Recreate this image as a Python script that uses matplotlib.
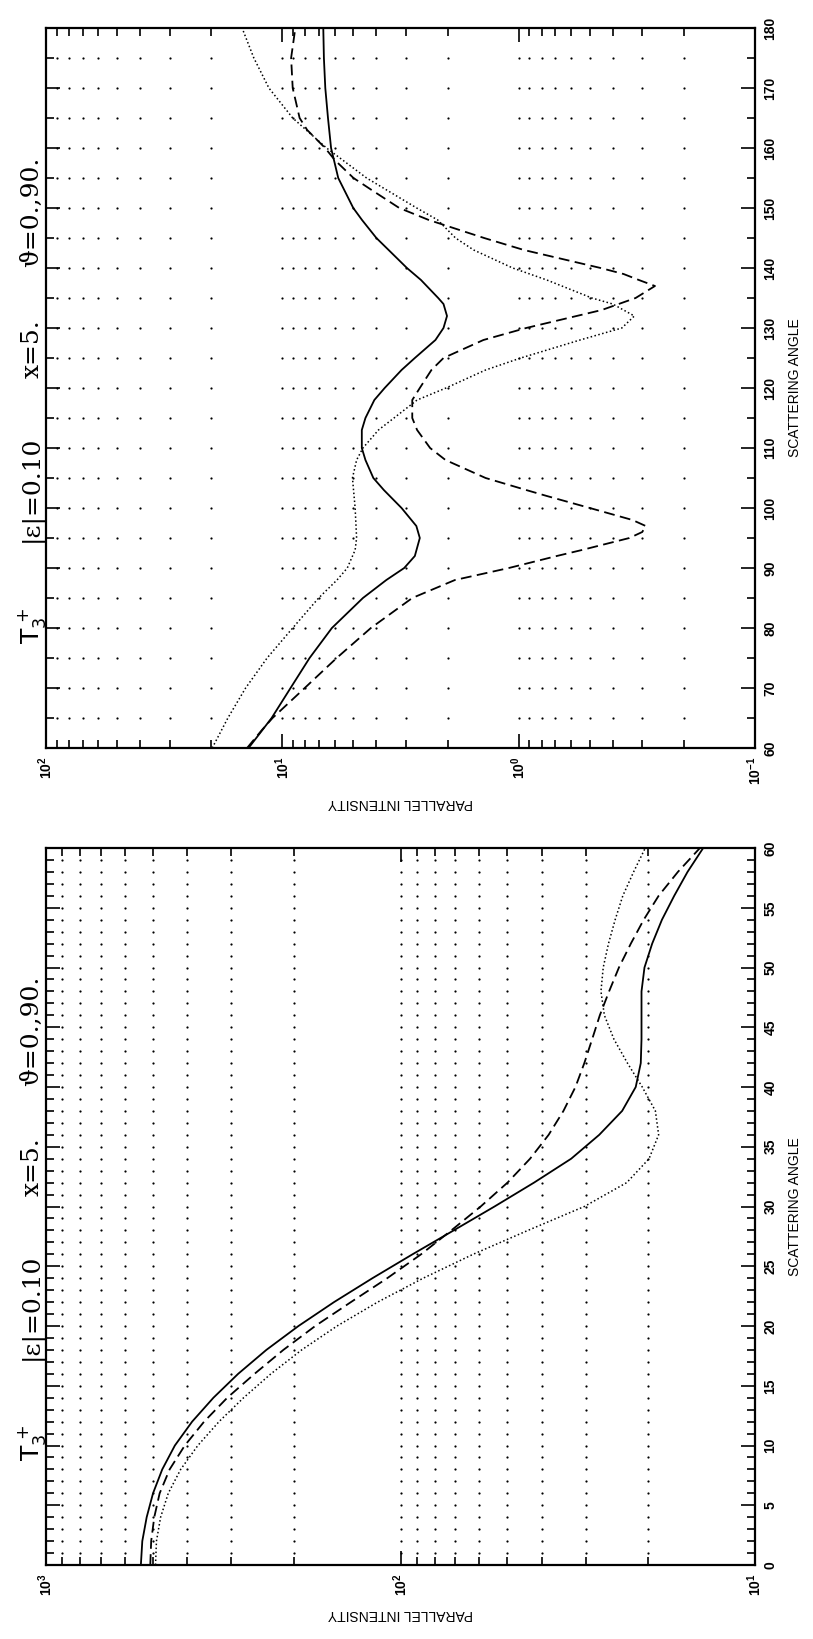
import numpy as np
import matplotlib.pyplot as plt
from matplotlib.ticker import LogLocator, NullFormatter, MultipleLocator

plt.rcParams['font.family'] = ['Liberation Sans', 'DejaVu Sans']

# ---- bottom panel, 0-60 deg (intensity) ----
ang_b = [0, 2, 4, 6, 8, 10, 12, 14, 16, 18, 20, 22, 24, 26, 28, 30,
         32, 34, 36, 38, 40, 42, 44, 46, 48, 50, 52, 54, 56, 58, 60]
solid_b = [540, 535, 520, 499, 470, 433, 387, 337, 287, 239, 194, 154, 120, 92.5, 70.8, 54.3,
           42.0, 33.0, 27.5, 23.7, 21.7, 21.0, 20.9, 20.9, 20.9, 20.5, 19.5, 18.3, 16.9, 15.5, 14.0]
dash_b = [508, 505, 495, 478, 448, 406, 358, 308, 258, 214, 174, 138, 109, 87.5, 71.9, 59.4,
          49.9, 43.1, 38.2, 34.7, 32.1, 30.3, 28.8, 27.4, 25.8, 24.2, 22.4, 20.6, 18.7, 16.5, 14.3]
dot_b = [491, 488, 475, 452, 417, 373, 325, 277, 232, 190, 151, 116, 86.3, 62.4, 43.7, 30.3,
         23.0, 19.9, 18.7, 19.1, 20.8, 22.9, 25.0, 26.6, 27.2, 26.8, 25.9, 24.8, 23.6, 22.0, 20.4]

# ---- top panel, 60-180 deg ----
ang_s = [60, 62, 65, 70, 75, 80, 85, 88, 90, 92, 95, 97, 100, 103, 105, 108, 110, 113, 115,
         118, 120, 123, 125, 128, 130, 132, 134, 135, 138, 140, 143, 145, 148, 150, 155,
         160, 165, 170, 175, 180]
solid_t = [13.9, 12.7, 11.1, 9.23, 7.67, 6.17, 4.56, 3.63, 3.05, 2.75, 2.62, 2.71, 3.13, 3.72,
           4.12, 4.45, 4.61, 4.61, 4.45, 4.08, 3.69, 3.13, 2.75, 2.25, 2.08, 2.01, 2.08, 2.19,
           2.59, 2.97, 3.55, 4.0, 4.60, 5.01, 5.80, 6.22, 6.41, 6.58, 6.67, 6.71]
ang_d = [60, 63, 65, 70, 75, 80, 85, 88, 90, 92, 93, 95, 96, 97, 98, 100, 102, 103, 105, 108,
         110, 113, 115, 118, 120, 123, 125, 128, 130, 133, 135, 137, 138, 139, 140, 143, 145,
         148, 150, 153, 155, 158, 160, 163, 165, 170, 175, 180]
dash_t = [14.1, 12.2, 11.0, 8.04, 5.89, 4.22, 2.82, 1.86, 1.10, 0.69, 0.54, 0.34, 0.30,
          0.29, 0.33, 0.50, 0.76, 0.93, 1.38, 2.04, 2.37, 2.69, 2.82, 2.82, 2.62, 2.34,
          2.08, 1.41, 0.93, 0.445, 0.32, 0.265, 0.31, 0.36, 0.45, 0.95, 1.40, 2.40, 3.20, 4.19,
          5.0, 6.0, 6.59, 7.85, 8.45, 9.04, 9.18, 8.81]
ang_o = [60, 65, 70, 75, 80, 85, 88, 90, 93, 95, 100, 105, 108, 110, 113, 115, 118, 120, 123,
         125, 128, 130, 132, 134, 135, 138, 140, 143, 145, 148, 150, 155, 160, 165, 170, 175, 180]
dot_t = [19.8, 17.0, 14.3, 11.6, 9.04, 7.02, 5.87, 5.31, 4.92, 4.85, 4.92, 5.05, 4.85, 4.56,
         3.92, 3.37, 2.69, 2.03, 1.38, 0.98, 0.55, 0.366, 0.324, 0.40, 0.49, 0.76, 1.06,
         1.55, 1.85, 2.20, 2.70, 4.40, 6.50, 9.04, 11.4, 13.2, 14.8]

labels = [r'$\mathrm{T}_3^{\,+}$', '|ε|=0.10', 'x=5.', 'ϑ=0.,90.']
label_pos = [0.17, 0.36, 0.555, 0.745]

W, H = 813, 1639
fig = plt.figure(figsize=(W / 100, H / 100), dpi=100)


def add(l, r, t, b):
    return fig.add_axes([l / W, 1 - b / H, (r - l) / W, (b - t) / H])


def panel(ax, xlim, ylim, major, minor, curves):
    ax.set_xscale('log')
    ax.set_xlim(*xlim)
    ax.set_ylim(*ylim)
    for ang, val, style in curves:
        ax.plot(val, ang, color='k', **style)
    # dotted grid = dots at every log tick / angle tick
    lo, hi = sorted(xlim)
    d0, d1 = int(round(np.log10(lo))), int(round(np.log10(hi)))
    cols = [m * 10.0 ** d for d in range(d0, d1) for m in range(1, 10)]
    cols = [c for c in cols if lo < c < hi]
    rows = np.arange(ylim[0] + minor, ylim[1] - minor / 2, minor)
    X, Y = np.meshgrid(cols, rows)
    ax.plot(X.ravel(), Y.ravel(), ls='none', marker='o', ms=1.6, mew=0, color='k')

    ax.xaxis.set_major_locator(LogLocator(base=10, numticks=12))
    ax.xaxis.set_minor_locator(LogLocator(base=10, subs=range(2, 10), numticks=12))
    ax.xaxis.set_minor_formatter(NullFormatter())
    ax.yaxis.set_major_locator(MultipleLocator(major))
    ax.yaxis.set_minor_locator(MultipleLocator(minor))
    ax.tick_params(which='both', direction='in', top=True, bottom=True, left=True,
                   right=True, labelleft=False, labelright=True, width=1.2,
                   labelsize=10, pad=6)
    ax.tick_params(which='major', length=10)
    ax.tick_params(which='minor', length=6)
    for t in ax.get_xticklabels():
        t.set_rotation(90)
        t.set_fontweight('bold')
    for t in ax.get_yticklabels():
        t.set_rotation(90)
        t.set_va('center')
        t.set_fontweight('bold')
    for s in ax.spines.values():
        s.set_linewidth(1.6)
    ax.set_xlabel('PARALLEL INTENSITY', rotation=180, fontsize=10, labelpad=8)
    ax.set_ylabel('SCATTERING ANGLE', rotation=90, fontsize=10, labelpad=8)
    ax.yaxis.set_label_position('right')
    for txt, p in zip(labels, label_pos):
        ax.text(-0.02, p, txt, transform=ax.transAxes, rotation=90, ha='center',
                va='center', fontsize=18, family=['DejaVu Serif'])


ax_t = add(46, 755, 28, 748)
ax_b = add(46, 755, 848, 1565)

solid = dict(lw=1.3, ls='-')
dashed = dict(lw=1.3, ls=(0, (6, 3)))
dotted = dict(lw=1.1, ls=(0, (1, 1.6)))

panel(ax_t, (1e2, 1e-1), (60, 180), 10, 5,
      [(ang_s, solid_t, solid), (ang_d, dash_t, dashed), (ang_o, dot_t, dotted)])
panel(ax_b, (1e3, 1e1), (0, 60), 5, 1,
      [(ang_b, solid_b, solid), (ang_b, dash_b, dashed), (ang_b, dot_b, dotted)])

fig.savefig('out.png', dpi=100)
